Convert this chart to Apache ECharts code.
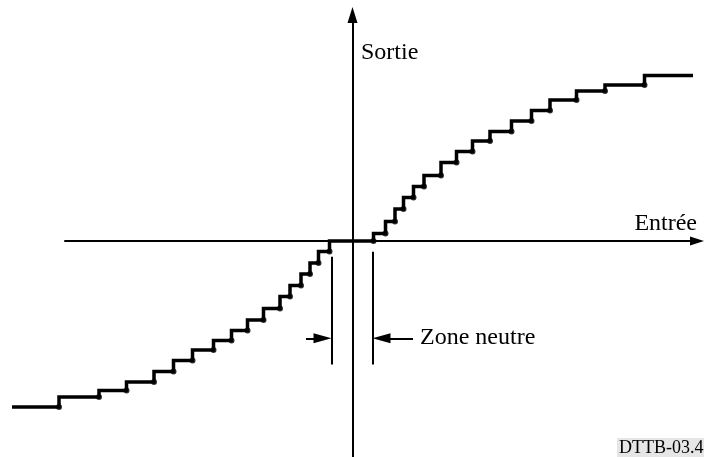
<!DOCTYPE html>
<html>
<head>
<meta charset="utf-8">
<title>Zone neutre</title>
<style>
  html, body { margin: 0; padding: 0; background: #fff; }
  #chart { width: 704px; height: 457px; }
</style>
</head>
<body>
<div id="chart"></div>
<script src="https://cdn.jsdelivr.net/npm/echarts@6.0.0/dist/echarts.min.js"></script>
<script>
// Caractéristique entrée / sortie en escalier avec zone neutre

// seuils d'entrée où la sortie change de niveau
var seuils = [
  -29.35, -25.35, -22.6, -19.85, -17.9, -16.0, -13.9, -12.1,
  -10.5, -8.9, -7.25, -6.25, -5.15, -4.25, -3.4, -2.3,
  2.1, 3.3, 4.25, 5.1, 6.1, 7.15, 8.85, 10.4,
  12.0, 13.75, 15.9, 17.9, 19.75, 22.4, 25.25, 29.2
]
// niveaux de sortie (un de plus que les seuils)
var niveaux = [
  -16.6, -15.6, -14.95, -14.1, -13.05, -11.95, -10.9, -9.95, -8.95,
  -7.9, -6.75, -5.55, -4.45, -3.3, -2.2, -1.05, 0,
  0.75, 1.95, 3.2, 4.35, 5.45, 6.55, 7.85, 8.95,
  10.0, 10.95, 12.0, 13.05, 14.1, 15.0, 15.6, 16.55
]
// début et fin de la courbe
var bornes = [-34.05, 34.05]
// limites de la zone neutre
var zoneNeutre = [-2.1, 2.0]

var courbe = [[bornes[0], niveaux[0]]]
var coins = []
for (var i = 0; i < seuils.length; i++) {
  courbe.push([seuils[i], niveaux[i]])
  courbe.push([seuils[i], niveaux[i + 1]])
  coins.push([seuils[i], niveaux[i]])
}
courbe.push([bornes[1], niveaux[niveaux.length - 1]])

var police = '"Liberation Serif", "Times New Roman", serif'
var fleche = { symbol: 'triangle', symbolSize: [10, 18] }

var chart = echarts.init(document.getElementById('chart'))
var option = {
  animation: false,
  backgroundColor: '#fff',
  grid: [
    // grille des données
    { left: 0, right: 0, top: 0, bottom: 0 },
    // grille des axes dessinés
    { left: 65, right: 7, top: 15, bottom: 0 }
  ],
  xAxis: [
    { type: 'value', gridIndex: 0, min: -35.25, max: 35.15, show: false },
    {
      type: 'value', gridIndex: 1, min: -28.75, max: 34.45,
      axisLine: {
        onZero: true,
        symbol: ['none', 'triangle'],
        symbolSize: [9, 14],
        lineStyle: { color: '#000', width: 2 }
      },
      axisTick: { show: false },
      axisLabel: { show: false },
      splitLine: { show: false }
    }
  ],
  yAxis: [
    { type: 'value', gridIndex: 0, min: -21.6, max: 24.1, show: false },
    {
      type: 'value', gridIndex: 1, min: -21.6, max: 22.6,
      axisLine: {
        onZero: true,
        symbol: ['none', 'triangle'],
        symbolSize: [10, 16],
        lineStyle: { color: '#000', width: 2 }
      },
      axisTick: { show: false },
      axisLabel: { show: false },
      splitLine: { show: false }
    }
  ],
  series: [
    {
      type: 'line',
      xAxisIndex: 0,
      yAxisIndex: 0,
      data: courbe,
      symbol: 'none',
      lineStyle: { color: '#000', width: 3.5, join: 'miter' },
      silent: true
    },
    {
      type: 'scatter',
      xAxisIndex: 0,
      yAxisIndex: 0,
      data: coins,
      symbolSize: 6,
      itemStyle: { color: '#000' },
      silent: true,
      markLine: {
        silent: true,
        symbol: ['none', 'none'],
        label: { show: false },
        lineStyle: { color: '#000', width: 2, type: 'solid' },
        data: [
          [{ coord: [zoneNeutre[0], -1.57] }, { coord: [zoneNeutre[0], -12.35] }],
          [{ coord: [zoneNeutre[1], -1.07] }, { coord: [zoneNeutre[1], -12.35] }],
          [
            { coord: [-4.65, -9.73] },
            Object.assign({ coord: [zoneNeutre[0] - 0.9, -9.73] }, fleche)
          ],
          [
            { coord: [6.05, -9.73] },
            Object.assign({ coord: [zoneNeutre[1] + 0.9, -9.73] }, fleche)
          ]
        ]
      }
    }
  ],
  graphic: [
    {
      type: 'text', left: 361, top: 41,
      style: { text: 'Sortie', font: '24px ' + police, fill: '#000' }
    },
    {
      type: 'text', right: 7, top: 212,
      style: { text: 'Entrée', font: '24px ' + police, fill: '#000' }
    },
    {
      type: 'text', left: 420, top: 326,
      style: { text: 'Zone neutre', font: '24px ' + police, fill: '#000' }
    },
    {
      type: 'text', left: 617, top: 438,
      style: {
        text: 'DTTB-03.4',
        font: '18px ' + police,
        fill: '#000',
        backgroundColor: '#e6e6e6',
        padding: [1, 2, 0, 2]
      }
    }
  ]
}
chart.setOption(option)
</script>
</body>
</html>
